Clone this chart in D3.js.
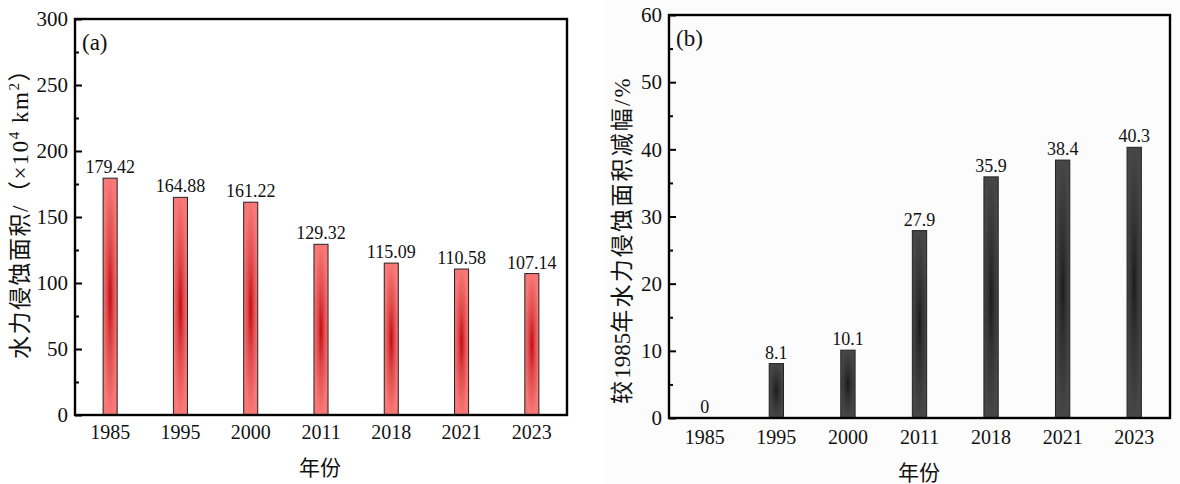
<!DOCTYPE html>
<html>
<head>
<meta charset="utf-8">
<script src="https://cdn.jsdelivr.net/npm/d3@7"></script>
<style>
  body { margin: 0; background: #fff; }
  svg text { font-family: "Liberation Serif", "Noto Sans CJK SC", serif; fill: #111; }
  .cjk { font-family: "Liberation Serif", "Noto Sans CJK SC", serif; }
  .num { font-family: "Liberation Serif", serif; }
</style>
</head>
<body>
<svg id="chart" width="1180" height="484"></svg>
<script>
// data
var years        = ['1985', '1995', '2000', '2011', '2018', '2021', '2023'];
var erosionArea  = [179.42, 164.88, 161.22, 129.32, 115.09, 110.58, 107.14]; // 10^4 km2
var reduction    = [0, 8.1, 10.1, 27.9, 35.9, 38.4, 40.3];                   // % vs 1985
var leftTicks    = [0, 50, 100, 150, 200, 250, 300];
var rightTicks   = [0, 10, 20, 30, 40, 50, 60];

var svg = d3.select('#chart');

// faint grey tint behind the right panel, as in the scan
svg.append('rect').attr('x', 604).attr('y', 0).attr('width', 576).attr('height', 484).attr('fill', '#fcfcfc');

var defs = svg.append('defs');

function radial(id, inner, mid, outer){
    var g = defs.append('radialGradient').attr('id', id)
        .attr('cx', '50%').attr('cy', '50%').attr('r', '50%');
    g.append('stop').attr('offset', '0%').attr('stop-color', inner);
    g.append('stop').attr('offset', '45%').attr('stop-color', mid);
    g.append('stop').attr('offset', '100%').attr('stop-color', outer);
}
radial('redBar', '#c40c12', '#de4a4c', '#f87777');
radial('greyBar', '#1c1c1c', '#333333', '#464646');

function drawPanel(o){
    var g = svg.append('g');

    var x = d3.scaleBand().domain(years).range([o.left, o.right])
        .paddingInner(0.8).paddingOuter(0.4);
    var y = d3.scaleLinear().domain([0, o.max]).range([o.bottom, o.top]);

    // minor ticks
    var minor = d3.range(o.minorStep, o.max, o.minorStep * 2);
    g.append('g').attr('transform', 'translate(' + o.left + ',0)')
        .call(d3.axisLeft(y).tickValues(minor).tickSize(-4).tickFormat(''))
        .call(function(s){ s.select('.domain').remove(); s.selectAll('line').attr('stroke', '#000').attr('stroke-width', 2); });

    // major ticks + labels
    g.append('g').attr('transform', 'translate(' + o.left + ',0)')
        .call(d3.axisLeft(y).tickValues(o.ticks).tickSizeInner(-7).tickSizeOuter(0).tickPadding(7))
        .call(function(s){
            s.select('.domain').remove();
            s.selectAll('line').attr('stroke', '#000').attr('stroke-width', 2);
            s.selectAll('text').attr('font-size', 21).attr('font-family', 'Liberation Serif').attr('fill', '#111');
        });

    // x axis labels
    g.append('g').attr('transform', 'translate(0,' + o.bottom + ')')
        .call(d3.axisBottom(x).tickSize(0).tickPadding(o.xPad))
        .call(function(s){
            s.select('.domain').remove();
            s.selectAll('text').attr('font-size', 20).attr('font-family', 'Liberation Serif').attr('fill', '#111');
        });

    // bars
    g.selectAll('rect.bar').data(o.values).enter().append('rect')
        .attr('class', 'bar')
        .attr('x', function(d, i){ return x(years[i]); })
        .attr('width', x.bandwidth())
        .attr('y', function(d){ return y(d); })
        .attr('height', function(d){ return y(0) - y(d); })
        .attr('fill', 'url(#' + o.grad + ')')
        .attr('stroke', '#222')
        .attr('stroke-width', 1)
        .attr('display', function(d){ return d > 0 ? null : 'none'; });

    // value labels
    g.selectAll('text.val').data(o.values).enter().append('text')
        .attr('class', 'val')
        .attr('x', function(d, i){ return x(years[i]) + x.bandwidth() / 2; })
        .attr('y', function(d){ return y(d) - 5; })
        .attr('text-anchor', 'middle')
        .attr('font-size', 18)
        .text(function(d){ return d3.format(o.fmt)(d); });

    // frame
    g.append('rect')
        .attr('x', o.left).attr('y', o.top)
        .attr('width', o.right - o.left).attr('height', o.bottom - o.top)
        .attr('fill', 'none').attr('stroke', '#000').attr('stroke-width', 2.4);

    // panel tag
    g.append('text').attr('x', o.left + 7).attr('y', o.top + 31)
        .attr('font-size', 23).text(o.tag);

    // x title
    g.append('text').attr('class', 'cjk')
        .attr('x', o.xTitleX).attr('y', o.xTitleY)
        .attr('text-anchor', 'middle').attr('font-size', 21).text('年份');

    return g;
}

drawPanel({ left: 75, right: 567, top: 19, bottom: 415, max: 300, minorStep: 25,
    ticks: leftTicks, values: erosionArea, grad: 'redBar', fmt: '.2f', xPad: 10,
    tag: '(a)', xTitleX: 320, xTitleY: 475 });

drawPanel({ left: 669, right: 1170, top: 15, bottom: 418, max: 60, minorStep: 5,
    ticks: rightTicks, values: reduction, grad: 'greyBar', fmt: '~r', xPad: 12,
    tag: '(b)', xTitleX: 919, xTitleY: 480 });

// y titles
var yl = svg.append('text').attr('class', 'cjk')
    .attr('transform', 'translate(28,208) rotate(-90)')
    .attr('text-anchor', 'middle').attr('font-size', 23)
    .attr('letter-spacing', 1.5);
yl.append('tspan').text('水力侵蚀面积/（×');
yl.append('tspan').attr('class', 'num').text('10');
yl.append('tspan').attr('class', 'num').attr('font-size', 15).attr('dy', -9).text('4');
yl.append('tspan').attr('class', 'num').attr('dy', 9).text(' km');
yl.append('tspan').attr('class', 'num').attr('font-size', 15).attr('dy', -9).text('2');
yl.append('tspan').attr('dy', 9).text('）');

var yr = svg.append('text').attr('class', 'cjk')
    .attr('transform', 'translate(630,240) rotate(-90)')
    .attr('text-anchor', 'middle').attr('font-size', 23)
    .attr('letter-spacing', 2.2);
yr.append('tspan').text('较');
yr.append('tspan').attr('class', 'num').attr('letter-spacing', 0).text('1985');
yr.append('tspan').text('年水力侵蚀面积减幅/%');
</script>
</body>
</html>
